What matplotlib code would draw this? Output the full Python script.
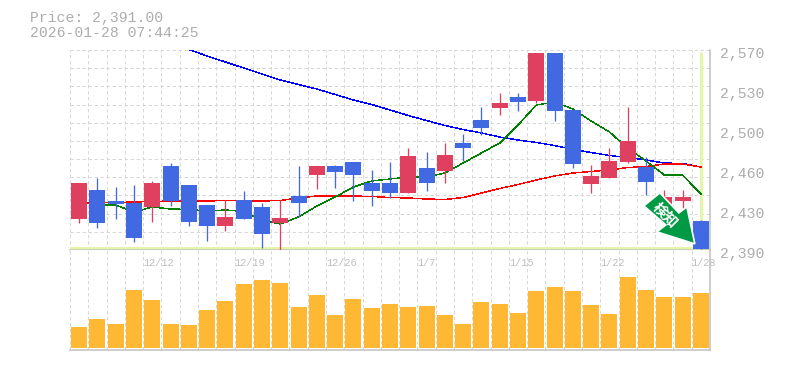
#!/usr/bin/env python3
import numpy as np
import matplotlib
matplotlib.use("Agg")
import matplotlib.pyplot as plt
from matplotlib.patches import Polygon

nan = float("nan")

# candles, left to right
opens = [2417.9, 2444.0, 2434.1, 2432.3, 2428.7, 2465.6, 2448.5, 2430.5, 2411.6, 2435.0, 2428.7, 2414.3,
         2438.6, 2457.5, 2465.6, 2469.2, 2450.3, 2450.3, 2441.3, 2463.8, 2461.1, 2486.3, 2507.0, 2517.8,
         2527.7, 2524.1, 2567.3, 2516.0, 2449.4, 2454.8, 2469.2, 2464.7, 2431.4, 2434.1, 2416.1]
closes = [2450.3, 2414.3, 2431.4, 2400.8, 2450.3, 2434.1, 2415.2, 2411.6, 2419.7, 2417.9, 2404.4, 2418.8,
          2432.3, 2465.6, 2460.2, 2457.5, 2443.1, 2441.3, 2474.6, 2450.3, 2475.5, 2481.8, 2499.8, 2522.3,
          2523.2, 2567.3, 2515.1, 2467.4, 2456.6, 2470.1, 2488.1, 2451.2, 2437.7, 2437.7, 2391.0]
highs = [2450.3, 2454.8, 2446.7, 2448.5, 2452.1, 2468.3, 2448.5, 2430.5, 2435.0, 2443.1, 2432.3, 2435.0,
         2465.6, 2465.6, 2466.5, 2469.2, 2462.0, 2469.2, 2481.8, 2478.2, 2486.3, 2494.4, 2518.7, 2531.3,
         2531.3, 2567.3, 2567.3, 2516.0, 2466.5, 2481.8, 2518.7, 2473.7, 2444.0, 2444.0, 2417.0]
lows = [2414.3, 2409.8, 2417.9, 2397.2, 2415.2, 2429.6, 2411.6, 2398.1, 2407.1, 2417.9, 2391.8, 2390.0,
        2419.7, 2444.9, 2445.8, 2434.1, 2429.6, 2436.8, 2441.3, 2443.1, 2450.3, 2470.1, 2493.5, 2511.5,
        2515.1, 2522.3, 2506.1, 2463.8, 2441.3, 2454.8, 2468.3, 2439.5, 2426.0, 2427.8, 2391.0]
volumes = [21, 29, 24, 58, 48, 24, 23, 38, 47, 64, 68, 65, 41, 53, 33, 49, 40, 44, 41, 42, 33, 24, 46, 44,
           35, 57, 61, 57, 43, 34, 71, 58, 51, 51, 55]

ma_short = [nan, 2430.5, 2430.5, 2424.2, 2428.7, 2426.9, 2426.5, 2425.1, 2426.0, 2424.7, 2417.0, 2413.4,
            2419.7, 2429.6, 2437.7, 2446.7, 2452.1, 2453.9, 2455.7, 2455.7, 2459.3, 2468.3, 2477.3, 2486.3,
            2502.5, 2520.5, 2523.2, 2516.9, 2506.1, 2496.2, 2481.8, 2470.1, 2457.5, 2457.5, 2440.4]
ma_mid = [2432.3, 2432.3, 2432.75, 2433.2, 2433.65, 2434.1, 2434.1, 2434.1, 2434.55, 2434.1, 2434.1, 2434.55,
          2436.8, 2438.6, 2438.6, 2438.6, 2438.15, 2437.25, 2436.8, 2435.9, 2435.45, 2437.25, 2441.3, 2445.35,
          2448.95, 2453.0, 2456.6, 2459.3, 2460.65, 2462.0, 2464.25, 2465.15, 2467.4, 2467.4, 2464.7]
ma_long = [nan, nan, nan, nan, nan, nan, 2570.45, 2564.6, 2559.2, 2553.8, 2548.4, 2543.0,
           2538.95, 2534.9, 2529.95, 2525.0, 2520.95, 2516.0, 2511.05, 2506.55, 2502.05, 2498.45, 2495.3, 2491.7,
           2489.0, 2486.75, 2484.05, 2480.45, 2477.75, 2475.05, 2473.25, 2471.0, 2468.3, 2467.85, 2464.7]

price_ticks = [2570, 2534, 2498, 2462, 2426, 2390]
price_labels = ["2,570", "2,530", "2,500", "2,460", "2,430", "2,390"]
date_idx = [4, 9, 14, 19, 24, 29, 34]
date_labels = ["12/12", "12/19", "12/26", "1/7", "1/15", "1/22", "1/28"]
title_lines = ["Price: 2,391.00", "2026-01-28 07:44:25"]
signal_text = "検知"

RED = "#E0405F"
BLUE = "#4169E1"
GRID = "#D8D8D8"
AXIS = "#C0C0C0"
TEXT = "#ADADAD"
CROSS = "#E4F5A8"
PX = 0.72  # one pixel at dpi 100, in points
THIN = 0.3  # agg gives a half pixel pen for aliased lines under this

W, H = 785, 370
fig = plt.figure(figsize=(W / 100, H / 100), dpi=100, facecolor="white")
ax = fig.add_axes([70 / W, 1 - 250 / H, 640 / W, 200 / H])
vol = fig.add_axes([70 / W, 1 - 350 / H, 640 / W, 100 / H])

n = len(opens)
x = np.arange(n)
colors = [RED if c >= o else BLUE for o, c in zip(opens, closes)]

for a in (ax, vol):
    a.set_xlim(-0.5, n - 0.5)
    a.set_xticks(np.arange(n + 1) - 0.5)
    a.tick_params(length=0, labelbottom=False, labelleft=False)
    a.grid(True, axis="x", color=GRID, lw=PX, ls=(0, (3.5, 2.5)))
    a.set_axisbelow(True)
    for s in ("top", "left"):
        a.spines[s].set_visible(False)
    for s in ("right", "bottom"):
        a.spines[s].set_color(AXIS)
        a.spines[s].set_linewidth(1.1)

# price pane
ax.set_ylim(2390, 2570)
ax.set_yticks(np.linspace(2390, 2570, 12))
ax.grid(True, axis="y", color=GRID, lw=PX, ls=(0, (3.5, 2.5)))

# crosshair on the last price
ax.axhline(closes[-1] + 0.8, color=CROSS, lw=2.2, zorder=1.5)
ax.vlines(x[-1], closes[-1], 2568, color=CROSS, lw=2.2, zorder=1.5)

ax.plot(x, ma_long, color="#0000FF", lw=THIN, zorder=2, antialiased=False)
ax.plot(x, ma_mid, color="#FF0000", lw=THIN, zorder=2, antialiased=False)
ax.plot(x, ma_short, color="#008000", lw=THIN, zorder=2, antialiased=False)

ax.vlines(x, lows, highs, colors=colors, lw=PX * 1.3, zorder=3)
bottoms = np.minimum(opens, closes)
heights = np.abs(np.array(closes) - np.array(opens))
ax.bar(x, heights, bottom=bottoms, width=0.875, color=colors, zorder=4, antialiased=False)

for val, lab in zip(price_ticks, price_labels):
    ax.annotate(lab, (1, val), xycoords=("axes fraction", "data"), xytext=(10, -4),
                textcoords="offset pixels", ha="left", va="center",
                family="Liberation Mono", fontsize=10.6, color=TEXT, annotation_clip=False)

# signal arrow, drawn from the last candle
tip = ax.transData.transform((x[-1], closes[-1]))
outline = np.array([[-41, -56], [-22, -36], [-14, -42], [-6, -5], [-44, -17], [-35, -24], [-57, -43]])
outline = tip + outline * [1, -1]
ax.add_patch(Polygon(outline, closed=True, transform=None, facecolor="#009944", edgecolor="white",
                     lw=1.2, zorder=6, clip_on=False))
centre = tip + np.array([-35.5, 34.5])
fig.text(centre[0] / W, centre[1] / H, signal_text, rotation=-45, rotation_mode="anchor", color="white",
         ha="center", va="center", family="Noto Sans CJK JP", fontweight="bold", fontsize=10.5, zorder=7)

# volume pane
vol.set_ylim(-2, 98)
vol.set_yticks([])
vol.spines["top"].set_visible(False)
vol.bar(x, volumes, width=0.875, color="#FFB833", zorder=3, antialiased=False)

for i, lab in zip(date_idx, date_labels):
    vol.annotate(lab, (i - 0.5, 1), xycoords=("data", "axes fraction"), xytext=(0, -13),
                 textcoords="offset pixels", ha="left", va="center", family="Liberation Mono",
                 fontsize=7.4, color="#BEBEBE", zorder=5, annotation_clip=False)

fig.text(30 / W, 1 - 18 / H, title_lines[0], family="Liberation Mono", fontsize=10.6, color=TEXT,
         ha="left", va="center")
fig.text(30 / W, 1 - 33 / H, title_lines[1], family="Liberation Mono", fontsize=10.6, color=TEXT,
         ha="left", va="center")

fig.savefig("out.png", dpi=100)
